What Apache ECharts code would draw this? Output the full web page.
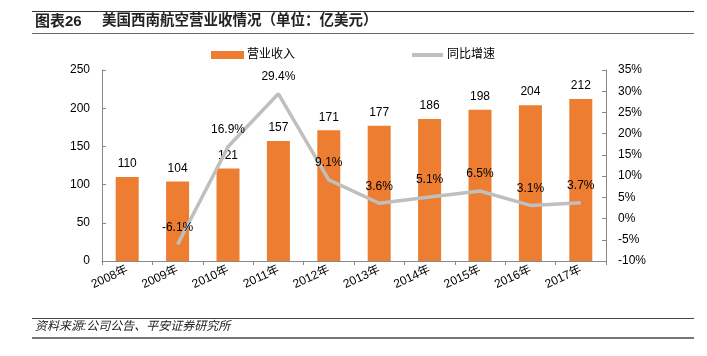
<!DOCTYPE html>
<html><head><meta charset="utf-8">
<script src="https://cdn.jsdelivr.net/npm/echarts@6/dist/echarts.min.js"></script>
<style>html,body{margin:0;padding:0;background:#fff}#c{width:707px;height:356px}</style>
</head><body><div id="c"></div>
<script>
var categories = ['2008年','2009年','2010年','2011年','2012年','2013年','2014年','2015年','2016年','2017年'];
var revenue = [110,104,121,157,171,177,186,198,204,212];
var growth = [null,-6.1,16.9,29.4,9.1,3.6,5.1,6.5,3.1,3.7];
var leftTicks = {min:0,max:250,interval:50};
var rightTicks = {min:-10,max:35,interval:5};

var font = '"Liberation Sans", Arial, "Noto Sans CJK SC", sans-serif';
var chart = echarts.init(document.getElementById('c'));
chart.setOption({
  animation:false,
  textStyle:{fontFamily:font},
  grid:{left:102,right:101,top:70,bottom:95,containLabel:false},
  legend:[
    {data:[{name:'营业收入',icon:'rect'}],left:211,top:49,padding:0,itemWidth:33,itemHeight:8,itemGap:3,
     textStyle:{fontSize:12,color:'#000',fontFamily:font,padding:[0,0,0,-2]}},
    {data:[{name:'同比增速',icon:'path://M0,0 L31,0 L31,4 L0,4 Z'}],left:412,top:49,padding:0,itemWidth:31,itemHeight:8,
     textStyle:{fontSize:12,color:'#000',fontFamily:font,padding:[0,0,0,-1]}}
  ],
  xAxis:{type:'category',data:categories,
    axisLine:{lineStyle:{color:'#888'}},
    axisTick:{show:true,alignWithLabel:false,length:4,lineStyle:{color:'#888'}},
    axisLabel:{rotate:25,fontSize:12,color:'#000',margin:8,interval:0,fontFamily:font}},
  yAxis:[
    {type:'value',min:leftTicks.min,max:leftTicks.max,interval:leftTicks.interval,
     splitLine:{show:false},
     axisLine:{show:true,lineStyle:{color:'#888'}},
     axisTick:{show:true,inside:true,length:4,lineStyle:{color:'#888'}},
     axisLabel:{fontSize:12,color:'#000',margin:12,fontFamily:font}},
    {type:'value',min:rightTicks.min,max:rightTicks.max,interval:rightTicks.interval,
     splitLine:{show:false},
     axisLine:{show:true,lineStyle:{color:'#888'}},
     axisTick:{show:true,inside:true,length:4,lineStyle:{color:'#888'}},
     axisLabel:{fontSize:12,color:'#000',margin:12,formatter:'{value}%',fontFamily:font}}
  ],
  series:[
    {name:'营业收入',type:'bar',data:revenue,barWidth:23,yAxisIndex:0,
     itemStyle:{color:'#ED7D31'},
     label:{show:true,position:'top',distance:7,fontSize:12,color:'#000',fontFamily:font}},
    {name:'同比增速',type:'line',data:growth,yAxisIndex:1,symbol:'circle',symbolSize:0,showSymbol:true,
     lineStyle:{color:'#BFBFBF',width:3.5},itemStyle:{color:'#BFBFBF'},z:3,
     label:{show:true,position:'top',distance:11,fontSize:12,color:'#000',fontFamily:font,
       formatter:function(p){return p.value==null?'':p.value.toFixed(1)+'%';}}}
  ],
  graphic:[
    {type:'line',shape:{x1:32,y1:11.5,x2:694,y2:11.5},style:{stroke:'#333',lineWidth:1}},
    {type:'line',shape:{x1:32,y1:33.5,x2:694,y2:33.5},style:{stroke:'#666',lineWidth:1}},
    {type:'text',left:35,top:14,style:{text:'图表26',font:'bold 15px '+font,fill:'#222'}},
    {type:'text',left:102,top:14,style:{text:'美国西南航空营业收情况（单位：亿美元）',font:'bold 14.5px '+font,fill:'#222'}},
    {type:'line',shape:{x1:32,y1:318.5,x2:694,y2:318.5},style:{stroke:'#444',lineWidth:1}},
    {type:'line',shape:{x1:32,y1:338,x2:694,y2:338},style:{stroke:'#777',lineWidth:2}},
    {type:'text',left:35,top:321,style:{text:'资料来源:公司公告、平安证券研究所',font:'italic 12px '+font,fill:'#222'}}
  ]
});
</script></body></html>
